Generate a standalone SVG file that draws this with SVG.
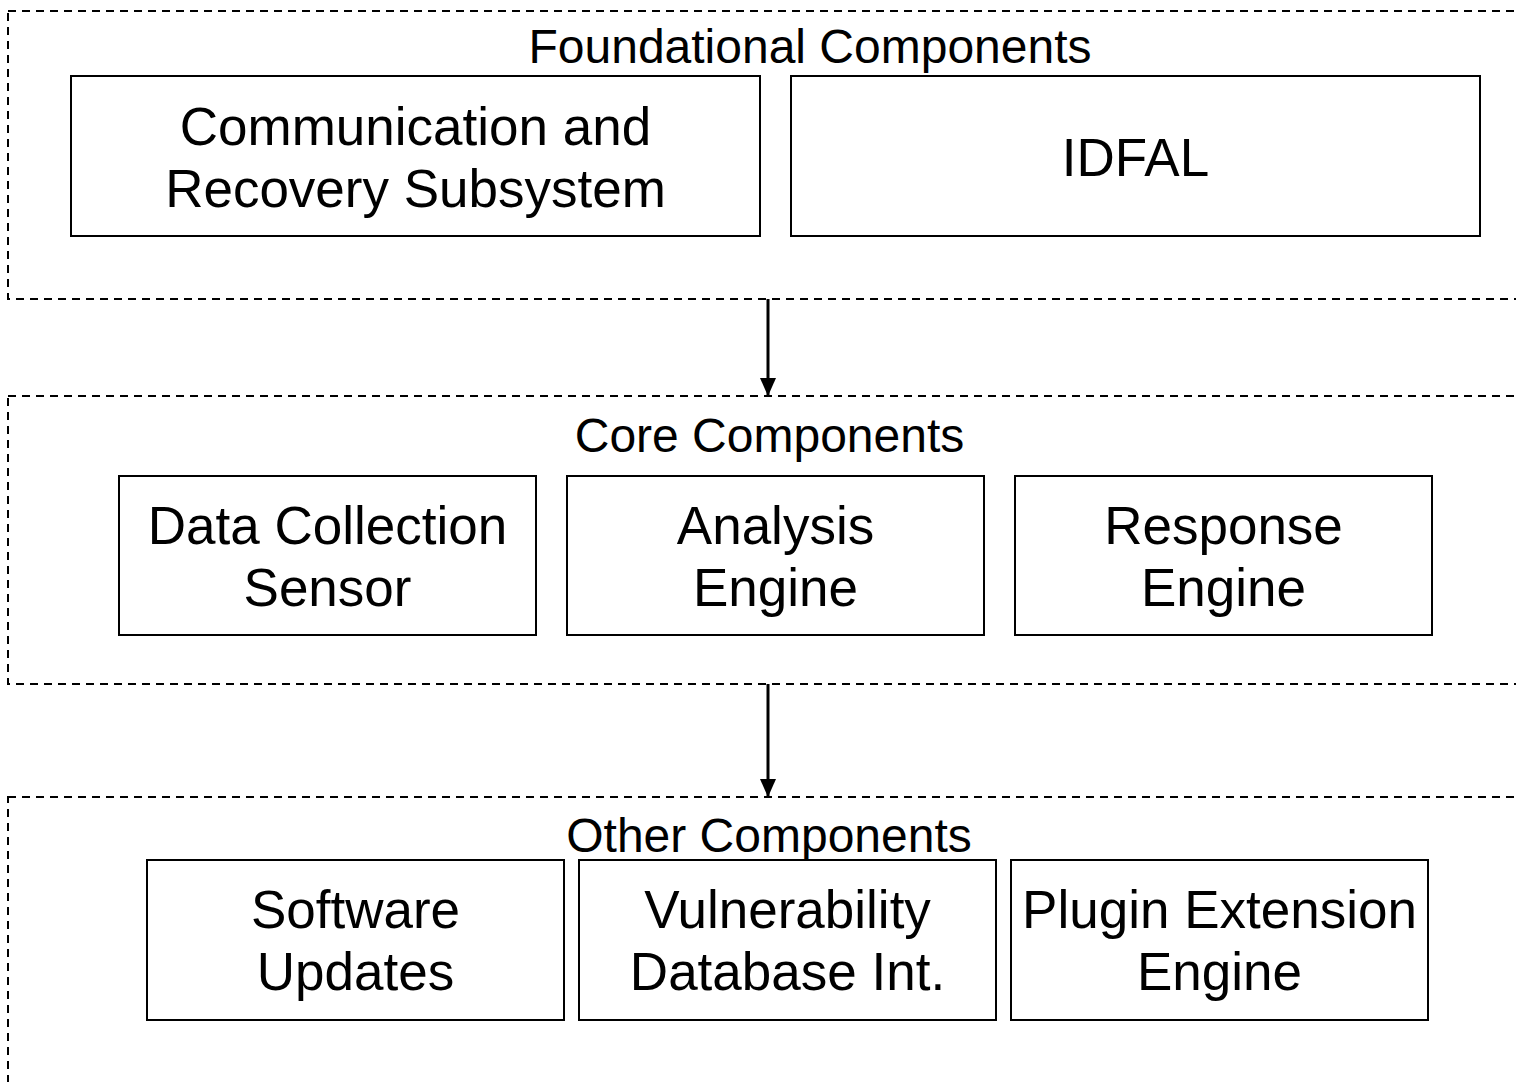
<svg xmlns="http://www.w3.org/2000/svg" width="1516" height="1082" viewBox="0 0 1516 1082">
<style>
.grp{fill:none;stroke:#000;stroke-width:2;stroke-dasharray:8 6}
.box{fill:#fff;stroke:#000;stroke-width:2}
.gl{font-family:"Liberation Sans",Arial,sans-serif;font-size:48px;fill:#000;text-anchor:middle}
.bl{font-family:"Liberation Sans",Arial,sans-serif;font-size:53px;fill:#000;text-anchor:middle}
.conn{stroke:#000;stroke-width:3;fill:none}
</style>
<defs>
<marker id="ah" markerUnits="userSpaceOnUse" markerWidth="20" markerHeight="20" viewBox="0 0 20 20" refX="18" refY="10" orient="auto">
<path d="M0,2 L18,10 L0,18 Z" fill="#000"/>
</marker>
</defs>
<rect width="1516" height="1082" fill="#fff"/>
<g id="group-foundational">
<rect class="grp" x="8" y="11" width="1530" height="288"/>
<text class="gl" x="810" y="63">Foundational Components</text>
</g>
<g id="group-core">
<rect class="grp" x="8" y="396" width="1530" height="288"/>
<text class="gl" x="769.5" y="452">Core Components</text>
</g>
<g id="group-other">
<rect class="grp" x="8" y="797" width="1530" height="300"/>
<text class="gl" x="769" y="852">Other Components</text>
</g>
<g id="node-comm">
<rect class="box" x="71" y="76" width="689" height="160"/>
<text class="bl" x="415.5" y="145">Communication and</text>
<text class="bl" x="415.5" y="207">Recovery Subsystem</text>
</g>
<g id="node-idfal">
<rect class="box" x="791" y="76" width="689" height="160"/>
<text class="bl" x="1135.5" y="176">IDFAL</text>
</g>
<g id="node-dcs">
<rect class="box" x="119" y="476" width="417" height="159"/>
<text class="bl" x="327.5" y="544">Data Collection</text>
<text class="bl" x="327.5" y="606">Sensor</text>
</g>
<g id="node-analysis">
<rect class="box" x="567" y="476" width="417" height="159"/>
<text class="bl" x="775.5" y="544">Analysis</text>
<text class="bl" x="775.5" y="606">Engine</text>
</g>
<g id="node-response">
<rect class="box" x="1015" y="476" width="417" height="159"/>
<text class="bl" x="1223.5" y="544">Response</text>
<text class="bl" x="1223.5" y="606">Engine</text>
</g>
<g id="node-software">
<rect class="box" x="147" y="860" width="417" height="160"/>
<text class="bl" x="355.5" y="928">Software</text>
<text class="bl" x="355.5" y="990">Updates</text>
</g>
<g id="node-vuln">
<rect class="box" x="579" y="860" width="417" height="160"/>
<text class="bl" x="787.5" y="928">Vulnerability</text>
<text class="bl" x="787.5" y="990">Database Int.</text>
</g>
<g id="node-plugin">
<rect class="box" x="1011" y="860" width="417" height="160"/>
<text class="bl" x="1219.5" y="928">Plugin Extension</text>
<text class="bl" x="1219.5" y="990">Engine</text>
</g>
<g id="connectors">
<line class="conn" x1="768" y1="299" x2="768" y2="396" marker-end="url(#ah)"/>
<line class="conn" x1="768" y1="684" x2="768" y2="797" marker-end="url(#ah)"/>
</g>
</svg>
